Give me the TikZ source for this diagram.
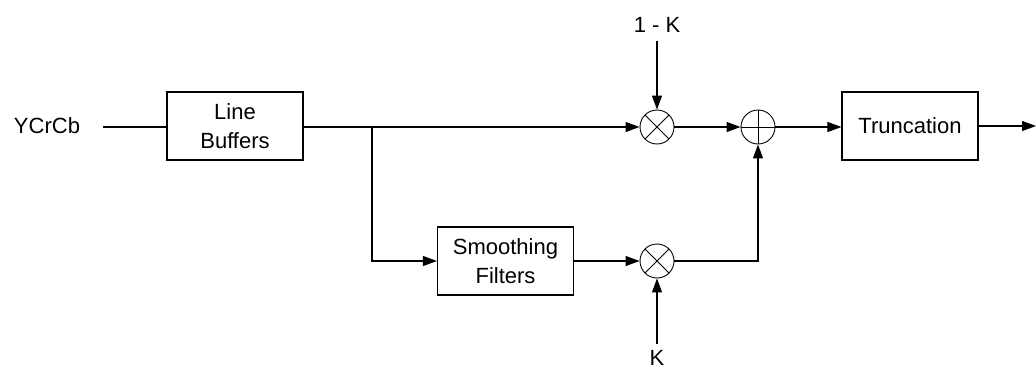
\documentclass[tikz,border=0pt]{standalone}
\usepackage{fontspec}
\setmainfont{Liberation Sans}
\usetikzlibrary{arrows.meta}
\begin{document}
\begin{tikzpicture}[x=1pt,y=-1pt,
  line width=1.1pt,
  every node/.style={font=\fontsize{22}{29}\selectfont},
  blk/.style={draw,minimum width=136pt,minimum height=68pt,align=center,inner sep=0pt},
  op/.style={draw,circle,minimum size=34pt,inner sep=0pt,line width=0.9pt},
  mul/.style={op,path picture={\draw[line width=0.8pt]
      (path picture bounding box.center) ++(-12,-12) -- ++(24,24)
      (path picture bounding box.center) ++(-12,12) -- ++(24,-24);}},
  addop/.style={op,path picture={\draw[line width=0.8pt]
      (path picture bounding box.north) -- (path picture bounding box.south)
      (path picture bounding box.west) -- (path picture bounding box.east);}},
  arr/.style={-{Triangle[length=14pt,width=10pt]}},
  lbl/.style={anchor=base,inner sep=0pt}
]
\useasboundingbox (0,0) rectangle (1036,369);
\node[lbl] (in) at (47,133) {YCrCb};
\coordinate (inS) at (103,127);
\node[blk] (lb) at (235,126) {Line\\Buffers};
\coordinate (br) at (372,127);
\coordinate (brD) at (372,261);
\node[blk] (sf) at (505.5,261) {Smoothing\\Filters};
\node[mul] (m1) at (657,127) {};
\node[mul] (m2) at (657,261) {};
\node[addop] (ad) at (758,127) {};
\node[blk] (tr) at (910,126) {Truncation};
\node[lbl] (ok) at (657,33) {1 - K};
\coordinate (okS) at (657,41);
\node[lbl] (k) at (657,365) {K};
\coordinate (kS) at (657,344);
\coordinate (out) at (1036,126);
\coordinate (up) at (758,261);

\draw (inS) -- (inS -| lb.west);
\draw[arr] (lb.east |- br) -- (br) -- (m1.west);
\draw[arr] (br) -- (brD) -- (sf.west);
\draw[arr] (sf.east) -- (m2.west);
\draw[arr] (okS) -- (m1.north);
\draw[arr] (kS) -- (m2.south);
\draw[arr] (m1.east) -- (ad.west);
\draw[arr] (m2.east) -- (up) -- (ad.south);
\draw[arr] (ad.east) -- (tr.west |- ad.east);
\draw[arr] (tr.east) -- (out);
\end{tikzpicture}
\end{document}
